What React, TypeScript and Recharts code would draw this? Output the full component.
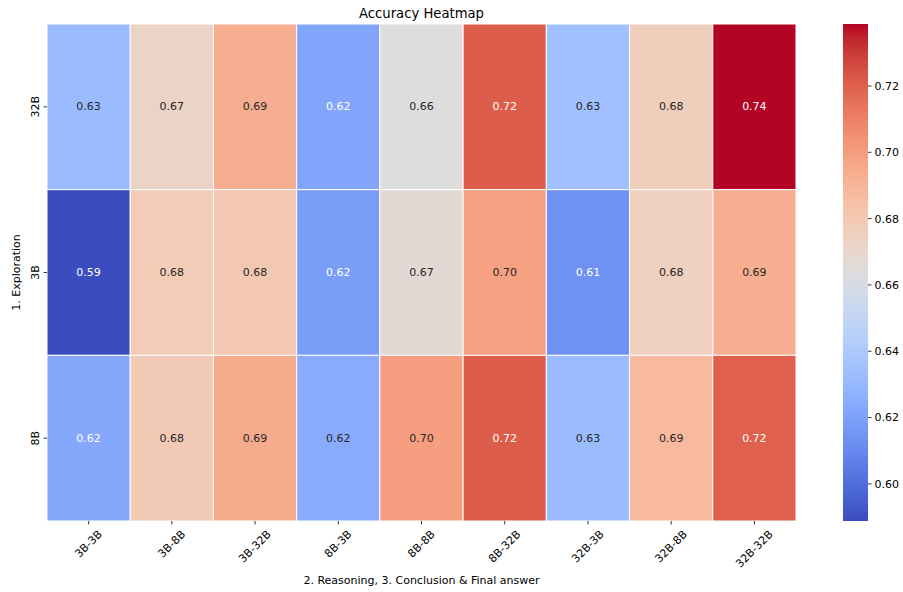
import React from 'react';
import { ScatterChart, ComposedChart, Scatter, XAxis, YAxis, ReferenceArea } from 'recharts';

// Column categories: reasoning model - conclusion/final-answer model
const models = ['3B-3B', '3B-8B', '3B-32B', '8B-3B', '8B-8B', '8B-32B', '32B-3B', '32B-8B', '32B-32B'];
// Row categories: exploration model (top to bottom)
const exploration = ['32B', '3B', '8B'];

// Accuracy per row, one value per column
const acc32B = [0.632, 0.6727, 0.6937, 0.6218, 0.6638, 0.7207, 0.6345, 0.6765, 0.7387];
const acc3B = [0.5888, 0.678, 0.6802, 0.618, 0.6672, 0.6985, 0.6135, 0.6757, 0.693];
const acc8B = [0.6225, 0.6787, 0.6945, 0.6243, 0.6992, 0.7207, 0.6323, 0.6877, 0.72];

const colorbarTicks = [0.6, 0.62, 0.64, 0.66, 0.68, 0.7, 0.72];

const accuracyRows = [acc32B, acc3B, acc8B];

// matplotlib "coolwarm" colormap, 33 evenly spaced samples
const COOLWARM: [number, number, number][] = [
  [59, 76, 192], [68, 90, 204], [77, 104, 215], [87, 117, 225], [98, 130, 234],
  [108, 142, 241], [119, 154, 247], [130, 165, 251], [141, 176, 254], [152, 185, 255],
  [163, 194, 255], [174, 201, 253], [184, 208, 249], [194, 213, 244], [204, 217, 238],
  [213, 219, 230], [221, 221, 221], [229, 216, 209], [236, 211, 197], [241, 204, 184],
  [245, 196, 172], [247, 187, 160], [247, 177, 148], [247, 166, 135], [244, 154, 123],
  [241, 141, 111], [236, 127, 99], [229, 112, 88], [222, 96, 77], [213, 80, 66],
  [203, 62, 56], [192, 40, 47], [180, 4, 38],
];

function coolwarmRgb(t: number): [number, number, number] {
  const tt = Math.max(0, Math.min(1, t));
  const pos = tt * (COOLWARM.length - 1);
  const i = Math.min(Math.floor(pos), COOLWARM.length - 2);
  const f = pos - i;
  const a = COOLWARM[i];
  const b = COOLWARM[i + 1];
  return [0, 1, 2].map((k) => a[k] + (b[k] - a[k]) * f) as [number, number, number];
}

const toCss = (c: [number, number, number]) =>
  `rgb(${Math.round(c[0])},${Math.round(c[1])},${Math.round(c[2])})`;

// Relative luminance, used to pick a readable annotation colour
function luminance(c: [number, number, number]) {
  const lin = c.map((v) => {
    const s = v / 255;
    return s <= 0.03928 ? s / 12.92 : Math.pow((s + 0.055) / 1.055, 2.4);
  });
  return 0.2126 * lin[0] + 0.7152 * lin[1] + 0.0722 * lin[2];
}

const allValues = accuracyRows.flat();
const vMin = Math.min(...allValues);
const vMax = Math.max(...allValues);

const cells = accuracyRows.flatMap((row, r) =>
  row.map((v, c) => {
    const rgb = coolwarmRgb((v - vMin) / (vMax - vMin));
    return {
      col: c,
      row: r,
      x: c + 0.5,
      y: r + 0.5,
      accuracy: v,
      fill: toCss(rgb),
      textColor: luminance(rgb) > 0.408 ? '#262626' : '#ffffff',
    };
  })
);

const xTicks = models.map((_, i) => i + 0.5);
const yTicks = exploration.map((_, i) => i + 0.5);

const FONT = '"DejaVu Sans", sans-serif';
const FS = 11;

const CHAR_W: Record<string, number> = { B: 0.686, '-': 0.361 };
const textWidth = (s: string, size: number) =>
  s.split('').reduce((acc, ch) => acc + (CHAR_W[ch] ?? 0.636), 0) * size;

const XTick = (props: any) => {
  const { x, y, payload } = props;
  const label = models[Math.floor(payload.value)];
  const w = textWidth(label, FS);
  const half = ((w + FS * 1.15) * Math.SQRT1_2) / 2;
  return (
    <text
      transform={`translate(${x},${y + half}) rotate(-45)`}
      textAnchor="middle"
      dominantBaseline="central"
      fontSize={FS}
      fill="#000"
      fontFamily={FONT}
    >
      {label}
    </text>
  );
};

const YTick = (props: any) => {
  const { x, y, payload } = props;
  const label = exploration[Math.floor(payload.value)];
  return (
    <text
      transform={`translate(${x},${y}) rotate(-90)`}
      textAnchor="middle"
      fontSize={FS}
      fill="#000"
      fontFamily={FONT}
    >
      {label}
    </text>
  );
};

const Annotation = (props: any) => {
  const p = props.payload ?? props;
  const { cx, cy } = props;
  return (
    <text
      x={cx}
      y={cy}
      textAnchor="middle"
      dominantBaseline="central"
      fontSize={FS}
      fill={p.textColor}
      fontFamily={FONT}
    >
      {p.accuracy.toFixed(2)}
    </text>
  );
};

export default function App() {
  return (
    <div
      style={{
        position: 'absolute',
        left: 0,
        top: 0,
        width: 903,
        height: 592,
        background: '#fff',
        fontFamily: FONT,
      }}
    >
      <ScatterChart
        width={903}
        height={592}
        margin={{ top: 24, right: 107, bottom: 0, left: 0 }}
        style={{ position: 'absolute', left: 0, top: 0 }}
      >
        <XAxis
          type="number"
          dataKey="x"
          domain={[0, 9]}
          ticks={xTicks}
          interval={0}
          allowDataOverflow
          height={71}
          tickSize={3.5}
          tickMargin={3.5}
          axisLine={false}
          tickLine={{ stroke: '#000', strokeWidth: 0.8 }}
          tick={<XTick />}
        />
        <YAxis
          type="number"
          dataKey="y"
          domain={[0, 3]}
          reversed
          ticks={yTicks}
          interval={0}
          allowDataOverflow
          width={47}
          tickSize={3.5}
          tickMargin={4.5}
          axisLine={false}
          tickLine={{ stroke: '#000', strokeWidth: 0.8 }}
          tick={<YTick />}
        />
        {cells.map((c) => (
          <ReferenceArea
            key={`${c.row}-${c.col}`}
            x1={c.col}
            x2={c.col + 1}
            y1={c.row}
            y2={c.row + 1}
            fill={c.fill}
            fillOpacity={1}
            stroke="#ffffff"
            strokeWidth={1}
          />
        ))}
        <Scatter data={cells} shape={<Annotation />} isAnimationActive={false} />
      </ScatterChart>

      <ComposedChart
        width={80}
        height={592}
        margin={{ top: 24, right: 0, bottom: 71, left: 20 }}
        style={{ position: 'absolute', left: 823, top: 0 }}
      >
        <defs>
          <linearGradient id="colorbarGradient" x1="0" y1="1" x2="0" y2="0">
            {COOLWARM.map((c, i) => (
              <stop key={i} offset={i / (COOLWARM.length - 1)} stopColor={toCss(c)} />
            ))}
          </linearGradient>
        </defs>
        <XAxis type="number" dataKey="x" domain={[0, 1]} hide allowDataOverflow />
        <YAxis
          type="number"
          dataKey="y"
          orientation="right"
          domain={[vMin, vMax]}
          allowDataOverflow
          ticks={colorbarTicks}
          interval={0}
          width={35}
          tickSize={3.5}
          tickMargin={3}
          axisLine={false}
          tickLine={{ stroke: '#000', strokeWidth: 0.8 }}
          tick={{ fontSize: FS, fill: '#000', fontFamily: FONT }}
          tickFormatter={(v: number) => v.toFixed(2)}
        />
        <ReferenceArea
          x1={0}
          x2={1}
          y1={vMin}
          y2={vMax}
          fill="url(#colorbarGradient)"
          fillOpacity={1}
          stroke="none"
        />
        <Scatter data={[{ x: 0.5, y: vMin }]} shape={() => <g />} isAnimationActive={false} />
      </ComposedChart>

      <svg
        width={903}
        height={592}
        style={{ position: 'absolute', left: 0, top: 0, pointerEvents: 'none' }}
      >
        <text x={421.5} y={17.5} textAnchor="middle" fontSize={13.2} fill="#000" fontFamily={FONT}>
          Accuracy Heatmap
        </text>
        <text x={421.5} y={584} textAnchor="middle" fontSize={FS} fill="#000" fontFamily={FONT}>
          2. Reasoning, 3. Conclusion &amp; Final answer
        </text>
        <text
          transform="translate(20,272.5) rotate(-90)"
          textAnchor="middle"
          fontSize={FS}
          fill="#000"
          fontFamily={FONT}
        >
          1. Exploration
        </text>
      </svg>
    </div>
  );
}
